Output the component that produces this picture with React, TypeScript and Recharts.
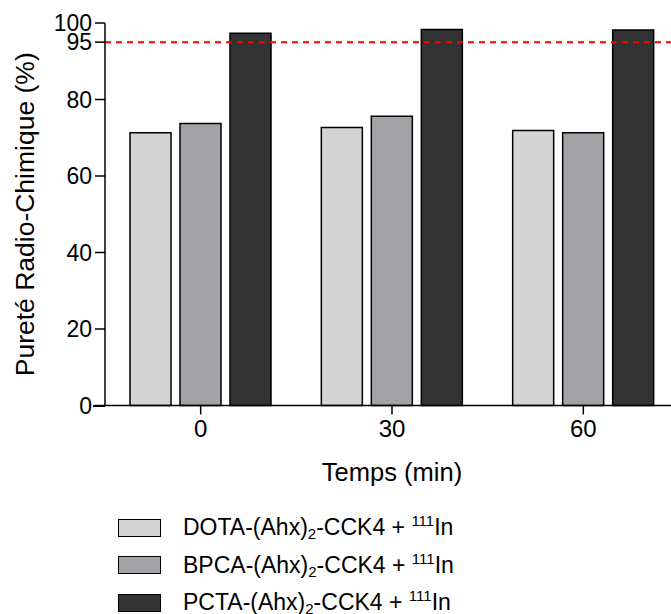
import React from "react";
import { BarChart, Bar, XAxis, YAxis, ReferenceLine } from "recharts";

const categories = ["0", "30", "60"];
const dotaValues = [71.3, 72.7, 71.9];
const bpcaValues = [73.7, 75.6, 71.3];
const pctaValues = [97.3, 98.3, 98.2];
const seriesNames = ["DOTA", "BPCA", "PCTA"];
const seriesKeys = ["dota", "bpca", "pcta"];
const seriesColors = ["#d4d4d4", "#a3a2a7", "#333333"];
const yTicks = [0, 20, 40, 60, 80, 95, 100];
const thresholdValue = 95;

const data = categories.map((c, i) => ({
  t: c,
  dota: dotaValues[i],
  bpca: bpcaValues[i],
  pcta: pctaValues[i],
}));

const FONT = "'Liberation Sans', Arial, Helvetica, sans-serif";

const YLabel = (props: any) => {
  const vb = props.viewBox || {};
  const cx = 25;
  const cy = vb.y + vb.height / 2;
  return (
    <text
      x={cx}
      y={cy}
      transform={`rotate(-90 ${cx} ${cy})`}
      textAnchor="middle"
      dominantBaseline="central"
      fontSize={26.5}
      fontFamily={FONT}
      fill="#000"
    >
      Pureté Radio-Chimique (%)
    </text>
  );
};

const XLabel = (props: any) => {
  const vb = props.viewBox || {};
  const cx = vb.x + vb.width / 2;
  return (
    <text
      x={cx}
      y={472}
      textAnchor="middle"
      dominantBaseline="central"
      fontSize={25.5}
      fontFamily={FONT}
      fill="#000"
    >
      Temps (min)
    </text>
  );
};

const LegendBlock = () => (
  <div
    style={{
      position: "absolute",
      left: 118,
      top: 509,
      fontFamily: FONT,
      fontSize: 23,
      color: "#000",
    }}
  >
    {seriesNames.map((n, i) => (
      <div key={n} style={{ display: "flex", alignItems: "center", height: 37.5 }}>
        <div
          style={{
            width: 41,
            height: 16,
            background: seriesColors[i],
            border: "1.5px solid #000",
            marginRight: 22,
          }}
        />
        <span style={{ whiteSpace: "nowrap" }}>
          {n}-(Ahx)
          <sub style={{ fontSize: 15, verticalAlign: "-4px", lineHeight: 0 }}>2</sub>
          -CCK4 +{" "}
          <sup style={{ fontSize: 15, verticalAlign: "9px", lineHeight: 0 }}>111</sup>
          In
        </span>
      </div>
    ))}
  </div>
);

export default function App() {
  return (
    <div
      style={{
        position: "absolute",
        left: 0,
        top: 0,
        width: 671,
        height: 614,
        overflow: "hidden",
        background: "#fff",
      }}
    >
      <BarChart
        width={690}
        height={614}
        data={data}
        margin={{ top: 23, right: 11, left: 0, bottom: 168.5 }}
        barGap={9}
        barSize={41}
      >
        <XAxis
          dataKey="t"
          height={40}
          tickSize={9}
          axisLine={{ stroke: "#000", strokeWidth: 1.5 }}
          tickLine={{ stroke: "#000", strokeWidth: 1.5 }}
          tick={{ fill: "#000", fontSize: 24, fontFamily: FONT }}
          tickMargin={5}
          label={<XLabel />}
        />
        <YAxis
          width={105}
          domain={[0, 100]}
          ticks={yTicks}
          interval={0}
          tickSize={10}
          axisLine={{ stroke: "#000", strokeWidth: 1.5 }}
          tickLine={{ stroke: "#000", strokeWidth: 1.5 }}
          tick={{ fill: "#000", fontSize: 23, fontFamily: FONT }}
          tickMargin={3}
          label={<YLabel />}
        />
        <ReferenceLine
          y={thresholdValue}
          stroke="#ff0000"
          strokeWidth={2}
          strokeDasharray="6 5"
        />
        {seriesKeys.map((k, i) => (
          <Bar
            key={k}
            dataKey={k}
            name={seriesNames[i]}
            fill={seriesColors[i]}
            stroke="#000"
            strokeWidth={1.5}
            isAnimationActive={false}
          />
        ))}
      </BarChart>
      <LegendBlock />
      <div
        style={{
          position: "absolute",
          left: 93,
          top: 405,
          width: 12,
          height: 1.5,
          background: "#000",
        }}
      />
    </div>
  );
}
